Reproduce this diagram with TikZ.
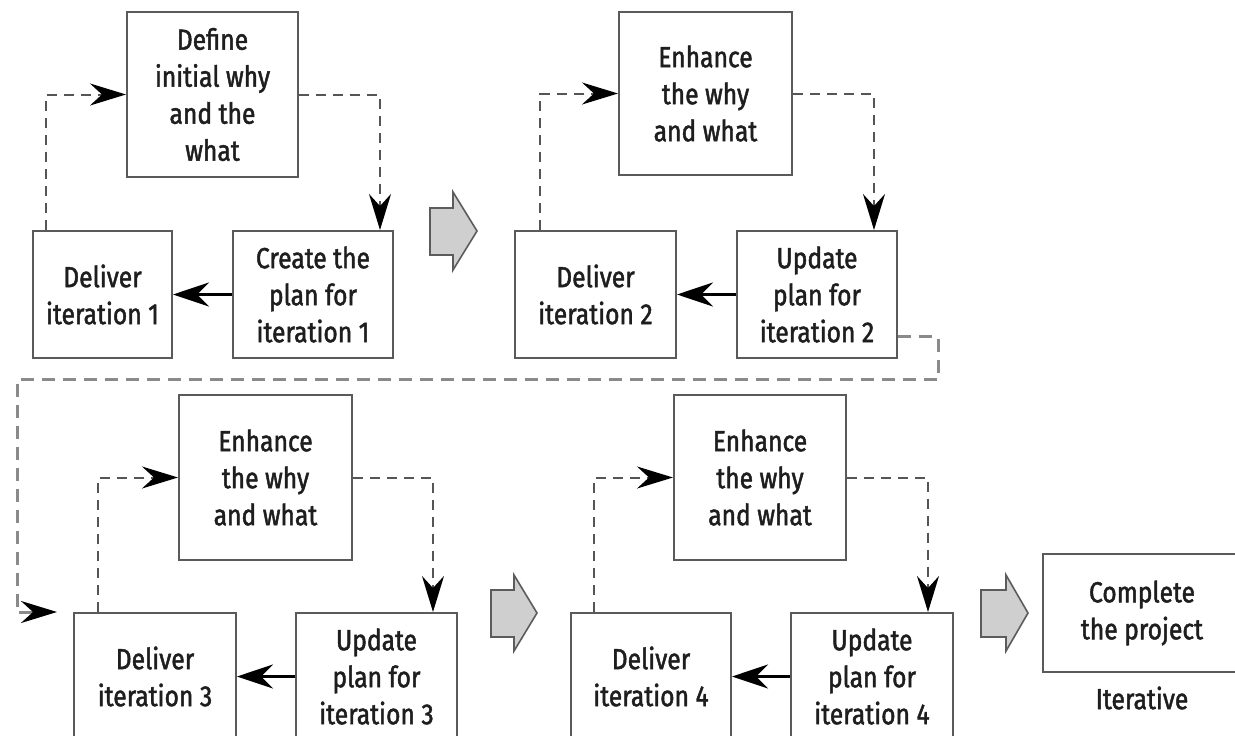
\documentclass[tikz,border=0pt]{standalone}
\usepackage{fontspec}
\setmainfont{Fira Sans}[FakeBold=1.6, FakeStretch=0.85]
\usetikzlibrary{arrows.meta,calc}
\definecolor{boxline}{HTML}{5A5A5A}
\definecolor{loopline}{HTML}{555555}
\definecolor{linkline}{HTML}{8A8A8A}
\definecolor{blockfill}{HTML}{CFCFCF}
\definecolor{blockline}{HTML}{5C5C5C}
\definecolor{txt}{HTML}{1E1E1E}
\tikzset{
  stepbox/.style={draw=boxline, line width=2pt, fill=white, inner sep=0pt,
    align=center, text=txt, font=\fontsize{29}{37}\selectfont},
  loopdash/.style={draw=loopline, line width=2pt, dash pattern=on 10pt off 7pt,
    -{Stealth[length=36pt,width=22pt,inset=12pt,black]}},
  linkdash/.style={draw=linkline, line width=3pt, dash pattern=on 13pt off 8pt,
    -{Stealth[length=36pt,width=22pt,inset=12pt,black]}},
  handoff/.style={draw=black, line width=3pt,
    -{Stealth[length=36pt,width=24pt,inset=12pt]}},
  blockarrow/.style={draw=blockline, line width=1.6pt, fill=blockfill, line join=miter},
  caption/.style={text=txt, font=\fontsize{29}{34}\selectfont}
}
\begin{document}
\begin{tikzpicture}[x=1pt,y=-1pt]
\useasboundingbox (0,0) rectangle (1235,736);
\clip (0,0) rectangle (1235,736);
\fill[white] (0,0) rectangle (1235,736);

% ---- round 1 ----
\node[stepbox, minimum width=171pt, minimum height=165pt] (def)  at (212.5,94.5) {Define\\initial why\\and the\\what};
\node[stepbox, minimum width=139pt, minimum height=127pt] (del1) at (102.5,294.5) {Deliver\\iteration 1};
\node[stepbox, minimum width=160pt, minimum height=127pt] (cre1) at (313,294.5) {Create the\\plan for\\iteration 1};

% ---- round 2 ----
\node[stepbox, minimum width=173pt, minimum height=163pt] (enh2) at (705.5,93.5) {Enhance\\the why\\and what};
\node[stepbox, minimum width=161pt, minimum height=127pt] (del2) at (595.5,294.5) {Deliver\\iteration 2};
\node[stepbox, minimum width=160pt, minimum height=127pt] (upd2) at (817,294.5) {Update\\plan for\\iteration 2};

% ---- round 3 ----
\node[stepbox, minimum width=173pt, minimum height=165pt] (enh3) at (265.5,477.5) {Enhance\\the why\\and what};
\node[stepbox, minimum width=162pt, minimum height=127pt] (del3) at (155,676.5) {Deliver\\iteration 3};
\node[stepbox, minimum width=161pt, minimum height=127pt] (upd3) at (376.5,676.5) {Update\\plan for\\iteration 3};

% ---- round 4 ----
\node[stepbox, minimum width=172pt, minimum height=165pt] (enh4) at (760,477.5) {Enhance\\the why\\and what};
\node[stepbox, minimum width=160pt, minimum height=127pt] (del4) at (651,676.5) {Deliver\\iteration 4};
\node[stepbox, minimum width=162pt, minimum height=127pt] (upd4) at (872,676.5) {Update\\plan for\\iteration 4};

% ---- final step ----
\node[stepbox, minimum width=198pt, minimum height=118pt] (comp) at (1142,613) {Complete\\the project};
\node[caption] (iter) at (1142,698) {Iterative};

% ---- feedback loops inside each round ----
\draw[loopdash] ([xshift=14pt]del1.north west) |- (def.west);
\draw[loopdash] (def.east) -| ([xshift=-14pt]cre1.north east);
\draw[loopdash] ([xshift=26pt]del2.north west) |- (enh2.west);
\draw[loopdash] (enh2.east) -| ([xshift=-24pt]upd2.north east);
\draw[loopdash] ([xshift=25pt]del3.north west) |- (enh3.west);
\draw[loopdash] (enh3.east) -| ([xshift=-25pt]upd3.north east);
\draw[loopdash] ([xshift=24pt]del4.north west) |- (enh4.west);
\draw[loopdash] (enh4.east) -| ([xshift=-26pt]upd4.north east);

% ---- plan to delivery ----
\draw[handoff] (cre1.west) -- (del1.east);
\draw[handoff] (upd2.west) -- (del2.east);
\draw[handoff] (upd3.west) -- (del3.east);
\draw[handoff] (upd4.west) -- (del4.east);

% ---- carry-over from round 2 to round 3 ----
\coordinate (r3in) at ($(del3.north west)+(-16pt,0)$);
\draw[linkdash] ([yshift=-42pt]upd2.east) -- ++(40pt,0) |- (17,379) |- (r3in);

% ---- block arrows between rounds ----
\draw[blockarrow] (430,208) -- (453,208) -- (453,192) -- (477,231) -- (453,270) -- (453,255) -- (430,255) -- cycle;
\draw[blockarrow] (491,590) -- (514,590) -- (514,575) -- (537,613) -- (514,651) -- (514,637) -- (491,637) -- cycle;
\draw[blockarrow] (981,590) -- (1006,590) -- (1006,575) -- (1028,613) -- (1006,651) -- (1006,637) -- (981,637) -- cycle;
\end{tikzpicture}
\end{document}
